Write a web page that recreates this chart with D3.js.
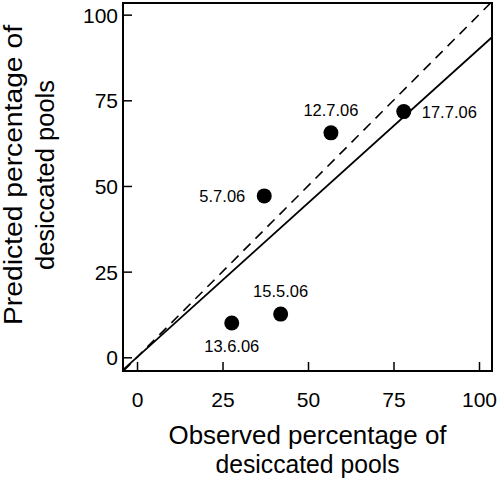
<!DOCTYPE html>
<html>
<head>
<meta charset="utf-8">
<script src="https://cdn.jsdelivr.net/npm/d3@7"></script>
<style>
  html, body { margin: 0; padding: 0; background: #fff; }
  svg { display: block; font-family: "Liberation Sans", Arial, Helvetica, sans-serif; }
</style>
</head>
<body>
<svg id="chart" width="498" height="485"></svg>
<script>
// ---- data ----
const dates = ["17.7.06", "12.7.06", "5.7.06", "15.5.06", "13.6.06"];
const observed = [78.0, 56.7, 37.2, 42.0, 27.7];
const predicted = [71.7, 65.5, 47.1, 12.6, 10.0];
const labelSide = ["right", "above", "left", "above", "below"];
const xTicks = [0, 25, 50, 75, 100];
const yTicks = [0, 25, 50, 75, 100];
const fitSlope = 0.9;          // regression through origin
const xDomain = [-4.1, 103.8];
const yDomain = [-4.0, 103.4];
const xTitle = ["Observed percentage of", "desiccated pools"];
const yTitle = ["Predicted percentage of", "desiccated pools"];

// ---- layout ----
const svg = d3.select("#chart");
const L = 123, R = 492, T = 3, B = 371;
const x = d3.scaleLinear().domain(xDomain).range([L, R]);
const y = d3.scaleLinear().domain(yDomain).range([B, T]);

// axes (ticks inward)
const xAxis = d3.axisBottom(x).tickValues(xTicks).tickSize(-9).tickPadding(0).tickFormat(d3.format("d"));
const yAxis = d3.axisLeft(y).tickValues(yTicks).tickSize(-9).tickPadding(0).tickFormat(d3.format("d"));

const gx = svg.append("g").attr("transform", `translate(0,${B})`).call(xAxis);
gx.select(".domain").remove();
gx.selectAll(".tick line").attr("stroke", "#000").attr("stroke-width", 1.5);
gx.selectAll(".tick text").attr("y", 36).attr("dy", null)
  .attr("font-size", 21).attr("fill", "#000");

const gy = svg.append("g").attr("transform", `translate(${L},0)`).call(yAxis);
gy.select(".domain").remove();
gy.selectAll(".tick line").attr("stroke", "#000").attr("stroke-width", 1.5);
gy.selectAll(".tick text").attr("x", -5).attr("dy", "0.36em")
  .attr("font-size", 21).attr("fill", "#000");

// clip for lines
svg.append("clipPath").attr("id", "plotclip")
  .append("rect").attr("x", L).attr("y", T).attr("width", R - L).attr("height", B - T);

// 1:1 dashed line
const dLo = Math.max(xDomain[0], yDomain[0]);
const dHi = Math.min(xDomain[1], yDomain[1]);
svg.append("line")
  .attr("clip-path", "url(#plotclip)")
  .attr("x1", x(dLo)).attr("y1", y(dLo))
  .attr("x2", x(dHi)).attr("y2", y(dHi))
  .attr("stroke", "#000").attr("stroke-width", 1.6)
  .attr("stroke-dasharray", "10,7");

// fitted solid line
svg.append("line")
  .attr("clip-path", "url(#plotclip)")
  .attr("x1", x(xDomain[0])).attr("y1", y(fitSlope * xDomain[0]))
  .attr("x2", x(xDomain[1])).attr("y2", y(fitSlope * xDomain[1]))
  .attr("stroke", "#000").attr("stroke-width", 1.8);

// frame
svg.append("rect").attr("x", L).attr("y", T).attr("width", R - L).attr("height", B - T)
  .attr("fill", "none").attr("stroke", "#000").attr("stroke-width", 2);

// points
const pts = dates.map((d, i) => ({ date: d, ox: observed[i], py: predicted[i], side: labelSide[i] }));
svg.append("g").selectAll("circle").data(pts).join("circle")
  .attr("cx", d => x(d.ox)).attr("cy", d => y(d.py)).attr("r", 7.5).attr("fill", "#000");

const lab = svg.append("g").attr("font-size", 16.5).attr("fill", "#000");
pts.forEach(d => {
  const cx = x(d.ox), cy = y(d.py);
  const t = lab.append("text").text(d.date);
  if (d.side === "right") t.attr("x", cx + 18).attr("y", cy + 6).attr("text-anchor", "start");
  else if (d.side === "left") t.attr("x", cx - 19).attr("y", cy + 6).attr("text-anchor", "end");
  else if (d.side === "above") t.attr("x", cx).attr("y", cy - 17).attr("text-anchor", "middle");
  else t.attr("x", cx).attr("y", cy + 29).attr("text-anchor", "middle");
});

// axis titles
const xLens = [278, 184];
const xt = svg.append("text").attr("text-anchor", "middle").attr("font-size", 25).attr("fill", "#000");
xTitle.forEach((s, i) => xt.append("tspan").attr("x", (L + R) / 2).attr("y", 444 + i * 29)
  .attr("textLength", xLens[i]).attr("lengthAdjust", "spacingAndGlyphs").text(s));

const yLens = [300, 190];
const yt = svg.append("text").attr("text-anchor", "middle").attr("font-size", 25).attr("fill", "#000")
  .attr("transform", "translate(0,175) rotate(-90)");
yTitle.forEach((s, i) => yt.append("tspan").attr("x", 0).attr("y", 22 + i * 32)
  .attr("textLength", yLens[i]).attr("lengthAdjust", "spacingAndGlyphs").text(s));
</script>
</body>
</html>
